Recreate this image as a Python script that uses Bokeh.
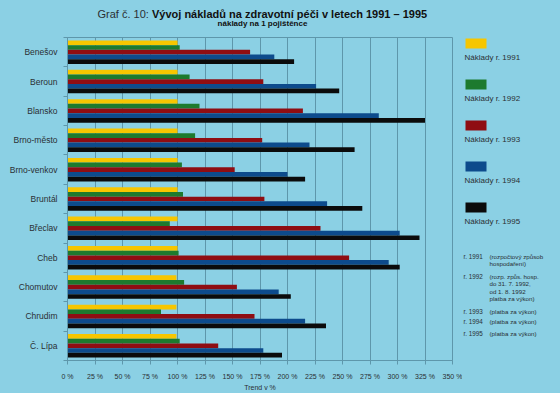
from bokeh.plotting import figure
from bokeh.layouts import row, column
from bokeh.models import ColumnDataSource, FixedTicker, Range1d
from bokeh.core.properties import value
from bokeh.transform import dodge
from bokeh.embed import file_html
from bokeh.resources import INLINE

categories = ["Benešov", "Beroun", "Blansko", "Brno-město", "Brno-venkov", "Bruntál",
              "Břeclav", "Cheb", "Chomutov", "Chrudim", "Č. Lípa"]
v1991 = [100, 100, 100, 100, 100, 100, 100, 100, 99, 99, 99]
v1992 = [102, 111, 120, 116, 104, 105, 93, 101, 106, 85, 102]
v1993 = [166, 178, 214, 177, 152, 179, 230, 256, 154, 170, 137]
v1994 = [188, 226, 283, 220, 200, 236, 302, 292, 192, 216, 178]
v1995 = [206, 247, 325, 261, 216, 268, 320, 302, 203, 235, 195]
years = ["1991", "1992", "1993", "1994", "1995"]
x_ticks = list(range(0, 351, 25))
note_keys = ["r. 1991", "r. 1992", "r. 1993", "r. 1994", "r. 1995"]
note_texts = [["(rozpočtový způsob", "hospodaření)"],
              ["(rozp. způs. hosp.", "do 31. 7. 1992,", "od 1. 8. 1992", "platba za výkon)"],
              ["(platba za výkon)"],
              ["(platba za výkon)"],
              ["(platba za výkon)"]]

colors = ["#f7c600", "#1d7a2e", "#8f0d12", "#0d4b8c", "#0b0b0b"]
FONT = "Liberation Sans"
BG = "#8bd0e4"
GRID = "#5e97ab"
TXT = "#2a2f33"

LEFT, RIGHT_EDGE, PW = 67, 452, 462


def blank(w, h, xr, yr, **kw):
    f = figure(width=w, height=h, output_backend="svg", toolbar_location=None,
               x_range=xr, y_range=yr, **kw)
    f.axis.visible = False
    f.grid.grid_line_color = None
    f.outline_line_color = None
    f.background_fill_color = BG
    f.border_fill_color = BG
    return f


n = len(categories)
pos = [n - i - 0.5 for i in range(n)]
src = ColumnDataSource(dict(cat=categories, pos=pos, v1991=v1991, v1992=v1992,
                            v1993=v1993, v1994=v1994, v1995=v1995))

p = figure(width=PW, height=357, output_backend="svg", toolbar_location=None,
           x_range=Range1d(0, 350), y_range=Range1d(0, n),
           min_border_left=LEFT, min_border_right=PW - RIGHT_EDGE, min_border_top=1,
           min_border_bottom=30)
p.background_fill_color = BG
p.border_fill_color = BG
p.outline_line_color = GRID
p.outline_line_width = 1

offsets = [0.32, 0.16, 0.0, -0.16, -0.32]
for yr, off, c in zip(years, offsets, colors):
    p.hbar(y=dodge("pos", off, range=p.y_range), left=0, right="v" + yr, height=0.16,
           source=src, fill_color=c, line_color=None)

p.xaxis.ticker = FixedTicker(ticks=x_ticks)
p.xaxis.major_label_overrides = {t: f"{t} %" for t in x_ticks}
p.xaxis.axis_label = "Trend v %"
p.xaxis.axis_label_text_font = FONT
p.xaxis.axis_label_text_font_style = "normal"
p.xaxis.axis_label_text_font_size = "7px"
p.xaxis.axis_label_text_color = TXT
p.xaxis.axis_label_standoff = 1
p.xaxis.major_label_text_font = FONT
p.xaxis.major_label_text_font_size = "7px"
p.xaxis.major_label_text_color = TXT
p.xaxis.major_label_standoff = 8
p.xaxis.major_tick_out = 4
p.xaxis.major_tick_in = 0
p.xaxis.minor_tick_line_color = None
p.xaxis.major_tick_line_color = GRID
p.xaxis.axis_line_color = GRID

p.yaxis.ticker = FixedTicker(ticks=pos, minor_ticks=list(range(0, n + 1)))
p.yaxis.major_label_overrides = {pv: c for pv, c in zip(pos, categories)}
p.yaxis.major_tick_line_color = None
p.yaxis.major_tick_out = 0
p.yaxis.minor_tick_out = 4
p.yaxis.minor_tick_in = 0
p.yaxis.minor_tick_line_color = GRID
p.yaxis.axis_line_color = GRID
p.yaxis.major_label_standoff = 6
p.yaxis.major_label_text_font = FONT
p.yaxis.major_label_text_font_size = "8.5px"
p.yaxis.major_label_text_color = TXT

p.xgrid.grid_line_color = GRID
p.xgrid.grid_line_width = 1
p.ygrid.grid_line_color = None

# header (page coordinates, y downward); frame aligned with the chart's frame
head = blank(PW, 36, Range1d(LEFT, RIGHT_EDGE), Range1d(36, 0),
             min_border_left=LEFT, min_border_right=PW - RIGHT_EDGE,
             min_border_top=0, min_border_bottom=0)
head.text(x=[97], y=[13], text=["Graf č. 10:"], text_font=value(FONT), text_font_size="11px",
          text_color=TXT, text_baseline="alphabetic", text_align="left")
head.text(x=[151.5], y=[13], text=["Vývoj nákladů na zdravotní péči v letech 1991 – 1995"],
          text_font=value(FONT), text_font_size="11px", text_font_style="bold",
          text_color="#111111", text_baseline="alphabetic", text_align="left")
head.text(x=[262], y=[23], text=["náklady na 1 pojištěnce"], text_font=value(FONT),
          text_font_size="8px", text_font_style="bold", text_color="#111111",
          text_baseline="alphabetic", text_align="center")

# side panel: legend and notes (page coordinates)
side = blank(560 - PW, 393, Range1d(PW, 560), Range1d(393, 0), min_border=0)
sw_top = [38 + 41 * i for i in range(len(years))]
side.quad(left=465, right=486, top=sw_top, bottom=[t + 10 for t in sw_top],
          fill_color=colors, line_color=None)
side.text(x=464, y=[t + 19 for t in sw_top], text=[f"Náklady r. {yr}" for yr in years],
          text_font=value(FONT), text_font_size="8px", text_color=TXT,
          text_baseline="middle", text_align="left")

key_y = [256, 276, 311, 321, 333]
nx, ny, nt = [], [], []
for ky, lines in zip(key_y, note_texts):
    for j, ln in enumerate(lines):
        nx.append(489)
        ny.append(ky + j * 7.4)
        nt.append(ln)
side.text(x=463, y=key_y, text=note_keys, text_font=value(FONT), text_font_size="6.3px",
          text_color=TXT, text_baseline="middle", text_align="left")
side.text(x=nx, y=ny, text=nt, text_font=value(FONT), text_font_size="6.2px",
          text_color=TXT, text_baseline="middle", text_align="left")

layout = row(column(head, p, spacing=0), side, spacing=0)
layout.background = BG

html = file_html(layout, INLINE)
open("out.html", "w").write(html)
